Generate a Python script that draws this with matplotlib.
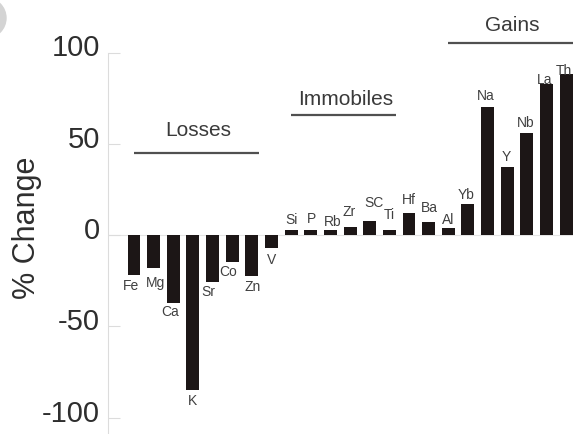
import matplotlib
matplotlib.use("Agg")
import matplotlib.pyplot as plt
from matplotlib.patches import Ellipse
from matplotlib.transforms import ScaledTranslation
import numpy as np

plt.rcParams['font.family'] = ['Liberation Sans', 'DejaVu Sans']
plt.rcParams['axes.unicode_minus'] = False

# Element mass change relative to the protolith (%)
elements = ['Fe', 'Mg', 'Ca', 'K', 'Sr', 'Co', 'Zn', 'V',
            'Si', 'P', 'Rb', 'Zr', 'SC', 'Ti', 'Hf', 'Ba', 'Al',
            'Yb', 'Na', 'Y', 'Nb', 'La', 'Th']
change = [-22, -18, -37, -85, -26, -15, -22.5, -7,
          3, 3, 3, 4.5, 7.5, 3, 12, 7, 4,
          17, 70, 37, 56, 83, 88]

# groups: title, first element, last element
groups = [('Losses', 'Fe', 'Zn'),
          ('Immobiles', 'Si', 'Ti'),
          ('Gains', 'Al', 'Th')]

# label nudges in pixels (dx, distance from bar end)
label_nudge = {'Fe': (-3, 11), 'Mg': (2, 15), 'Ca': (-3, 9), 'K': (0, 11),
               'Sr': (-4, 10), 'Co': (-4, 10), 'Zn': (1, 11), 'V': (0, 12),
               'Si': (0, 10), 'P': (1, 11), 'Rb': (2, 8), 'Zr': (-1, 15),
               'SC': (4, 18), 'Ti': (0, 15), 'Hf': (0, 13), 'Ba': (1, 14),
               'Al': (0, 8), 'Yb': (-2, 9), 'Na': (-2, 11), 'Y': (-1, 10),
               'Nb': (-1, 10), 'La': (-2, 4), 'Th': (-2, 3.5)}
# header text / line heights in data units
header_y = {'Losses': (57.5, 45), 'Immobiles': (74, 65.8), 'Gains': (115, 105)}

W, H = 573, 434
fig = plt.figure(figsize=(W / 100, H / 100), dpi=100)
ax = fig.add_axes([108 / W, 0, 1 - 108 / W, 381.5 / H])

x = np.arange(len(elements))
ax.bar(x, change, width=0.66, color='#1c1616', zorder=2)
ax.axhline(0, color='#e4e4e4', lw=0.8, zorder=1)

ax.set_xlim(-1.324, 22.35)
ax.set_ylim(-109, 100)
ax.set_yticks([-100, -50, 0, 50, 100])
ax.set_xticks([])
for s in ['top', 'right', 'bottom']:
    ax.spines[s].set_visible(False)
ax.spines['left'].set_color('#dcdcdc')
ax.spines['left'].set_linewidth(0.8)
ax.tick_params(axis='y', direction='in', length=8.5, width=0.8, color='#dcdcdc',
               labelsize=21, labelcolor='#2e2e2e', pad=6)
shift = ScaledTranslation(0, 7 / 100, fig.dpi_scale_trans)
for lab in ax.get_yticklabels():
    lab.set_transform(lab.get_transform() + shift)

fig.text(27 / W, 1 - 228 / H, '% Change', rotation=90, ha='center', va='center',
         fontsize=22, color='#2e2e2e')

# element symbols at the end of each bar
for xi, name, val in zip(x, elements, change):
    dx, dy = label_nudge.get(name, (0, 10))
    sign = 1 if val >= 0 else -1
    ax.annotate(name, (xi, val), xytext=(dx * 0.72, sign * dy * 0.72),
                textcoords='offset points', ha='center', va='center',
                fontsize=10, color='#404040', annotation_clip=False)

# group headers with underline
for title, first, last in groups:
    i0, i1 = elements.index(first), elements.index(last)
    ty, ly = header_y[title]
    x0, x1 = i0, i1 + 0.35
    ax.plot([x0, x1], [ly, ly], color='#505050', lw=1.6, clip_on=False,
            solid_capstyle='butt')
    ax.text((x0 + x1) / 2 + 0.1, ty, title, ha='center', va='center',
            fontsize=15, color='#3a3a3a', clip_on=False)

# edge of the panel badge in the corner
fig.patches.append(Ellipse((-14 / W, 1 - 18 / H), 40 / W, 40 / H,
                           transform=fig.transFigure, color='#d4d4d4',
                           zorder=0))

fig.savefig('out.png', dpi=100)
